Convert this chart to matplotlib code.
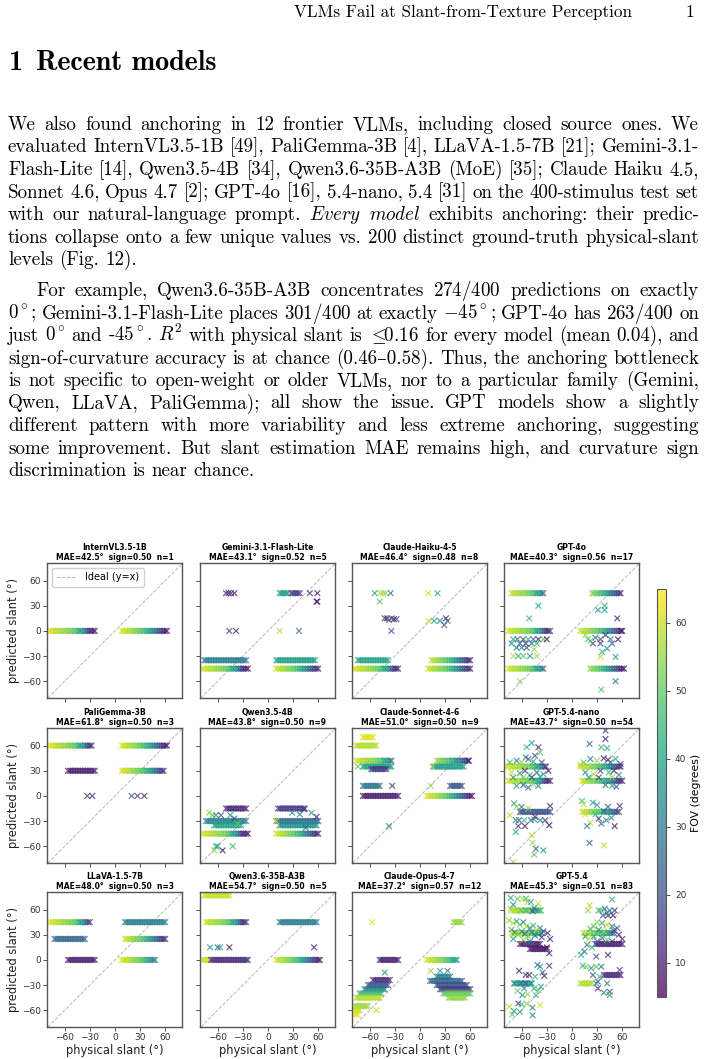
import matplotlib
matplotlib.use("Agg")
import matplotlib.pyplot as plt
import numpy as np

plt.rcParams['mathtext.fontset'] = 'cm'

# ---------------- data ----------------
MODELS = ["InternVL3.5-1B", "Gemini-3.1-Flash-Lite", "Claude-Haiku-4-5", "GPT-4o",
          "PaliGemma-3B", "Qwen3.5-4B", "Claude-Sonnet-4-6", "GPT-5.4-nano",
          "LLaVA-1.5-7B", "Qwen3.6-35B-A3B", "Claude-Opus-4-7", "GPT-5.4"]
MAE = [42.5, 43.1, 46.4, 40.3, 61.8, 43.8, 51.0, 43.7, 48.0, 54.7, 37.2, 45.3]
SIGN = [0.50, 0.52, 0.48, 0.56, 0.50, 0.50, 0.50, 0.50, 0.50, 0.50, 0.57, 0.51]
N_UNIQUE = [1, 5, 8, 17, 3, 9, 9, 54, 3, 5, 12, 83]

# test stimuli: physical slant level and its field of view
STIM_SLANT = [-78, -76, -74, -72, -70, -68, -66, -64, -62, -60, -58, -56, -54, -52,
              -50, -48, -46, -44, -42, -40, -38, -36, -34, -32, -30, -28, -26, -24,
              8, 10, 12, 14, 16, 18, 20, 22, 24, 26, 28, 30, 32, 34,
              36, 38, 40, 42, 44, 46, 48, 50, 52, 54, 56, 58, 60, 62]
STIM_FOV = [62, 60, 63, 58, 61, 56, 60, 55, 58, 53, 57, 52, 55, 50,
            54, 47, 51, 44, 40, 36, 42, 30, 24, 18, 12, 9, 14, 7,
            63, 60, 62, 57, 61, 55, 59, 53, 57, 50, 55, 48, 52, 45,
            49, 40, 44, 35, 38, 28, 32, 20, 25, 14, 18, 9, 12, 6]

# anchored rows: (predicted slant, slant from, slant to, fov or None = stimulus fov)
bands_internvl = [(0, -78, -24, None), (0, 8, 62, None)]
bands_gemini = [(-45, -78, -24, None), (-35, -76, -26, 30), (-45, 10, 60, None),
                (-35, 10, 56, 38), (45, 14, 24, 38), (45, 28, 38, 15)]
bands_haiku = [(-45, -78, -25, None), (-35, -74, -38, 40), (-45, 10, 60, None),
               (-35, 14, 61, None)]
bands_gpt4o = [(45, -73, -33, None), (0, -76, -25, None), (-45, -77, -33, None),
               (45, 23, 58, None), (0, 9, 61, None), (-45, 21, 62, None)]
bands_paligemma = [(60, -78, -28, None), (30, -56, -24, 10), (60, 8, 62, None),
                   (30, 8, 58, None)]
bands_qwen35 = [(-15, -50, -26, 12), (-30, -74, -26, 30), (-35, -64, -32, 40),
                (-45, -78, -24, None), (-15, 11, 44, 15), (-30, 10, 60, 25),
                (-35, 14, 58, 35), (-45, 9, 61, None)]
bands_sonnet = [(70, -68, -56, 62), (60, -76, -52, 58), (42, -77, -34, None),
                (35, -68, -33, 40), (32, -58, -40, 15), (12, -68, -48, 28),
                (0, -68, -25, 10), (42, 20, 59, None), (35, 16, 52, 38),
                (12, 35, 51, 20), (0, 8, 62, None)]
bands_gpt54nano = [(18, -76, -25, None), (35, -78, -31, None), (-19, -62, -26, 20),
                   (18, 12, 61, None), (35, 10, 59, None), (-19, 12, 57, None)]
bands_llava = [(45, -78, -30, None), (25, -72, -35, 25), (0, -57, -24, 10),
               (45, 12, 60, 30), (25, 12, 61, None), (0, 8, 48, None)]
bands_qwen36 = [(77, -77, -46, 60), (45, -74, -25, None), (0, -78, -70, 60),
                (0, -68, -24, 12), (45, 14, 59, 30), (0, 9, 62, None)]
bands_opus = [(0, -48, -25, 10), (-24, -56, -35, 12), (-30, -63, -37, 20),
              (-35, -67, -41, 30), (-40, -73, -45, 45), (-45, -77, -47, 58),
              (-55, -78, -61, 56), (-60, -78, -72, 60), (-65, -78, -74, 62),
              (45, 40, 51, 55), (0, 8, 45, None), (-20, 19, 37, 30), (-25, 11, 51, 25),
              (-30, 19, 57, 20), (-35, 23, 61, 15), (-40, 27, 61, 50), (-45, 34, 55, 55)]
bands_gpt54 = [(59, -73, -37, None), (32, -72, -36, None), (19, -62, -38, 10),
               (13, -50, -30, 8), (-28, -68, -48, 40), (19, 28, 61, 10),
               (32, 14, 50, None), (-18, 37, 59, 12), (-28, 10, 24, 58)]

# off-row predictions: (physical slant, predicted slant, fov)
points_internvl = []
points_gemini = [(-50, 45, 12), (-47, 45, 10), (-44, 45, 12), (-40, 45, 10), (-46, 0, 15),
                 (-38, 0, 10), (50, 45, 12), (59, 45, 10), (58, 35, 8), (59, 35, 10),
                 (14, 0, 58), (37, 0, 25)]
points_haiku = [(-54, 45, 40), (-47, 45, 56), (-44, 45, 58), (-41, 45, 55), (-35, 45, 28),
                (-48, 35, 50), (-42, 15, 12), (-39, 15, 8), (-37, 13, 25), (-34, 15, 20),
                (-31, 14, 10), (-28, 14, 15), (-34, 0, 20), (10, 45, 60), (21, 45, 40),
                (10, 12, 60), (17, 12, 40), (24, 12, 30), (31, 15, 10), (33, 12, 25),
                (29, 7, 20)]
points_gpt4o = [(-70, -10, 40), (-65, -10, 30), (-58, -10, 20), (-52, -10, 45), (-46, -10, 25),
                (-40, -10, 10), (-34, -10, 50), (-30, -10, 8), (-72, -15, 38), (-62, -15, 22),
                (-55, -15, 12), (-48, -15, 30), (-42, -15, 45), (-66, -20, 28), (-60, -20, 35),
                (-54, -20, 20), (-45, -22, 55), (-70, -30, 58), (-64, -30, 42), (-58, -30, 48),
                (-50, -30, 36), (-42, -30, 55), (-40, 30, 40), (-51, 15, 45), (-62, -60, 55),
                (19, -10, 48), (34, -10, 20), (46, -10, 30), (59, 0, 10), (25, -15, 15),
                (34, -15, 18), (42, -21, 35), (36, -25, 42), (52, -31, 40), (34, -31, 60),
                (31, 25, 35), (39, 30, 45), (39, 25, 40), (54, 15, 10), (52, -60, 30),
                (35, -70, 48), (16, -5, 55), (22, -12, 50), (28, -8, 25), (40, -5, 12),
                (48, -15, 20), (55, -10, 8)]
points_paligemma = [(-33, 0, 15), (-27, 0, 12), (20, 0, 20), (27, 0, 15), (35, 0, 10)]
points_qwen35 = [(-70, -20, 55), (-66, -23, 50), (-62, -23, 30), (-56, -23, 20), (-45, -23, 35),
                 (-62, -60, 45), (-64, -65, 55), (-54, -65, 10), (-42, -60, 45), (-60, -60, 40),
                 (-40, -27, 20), (-36, -33, 50), (29, -20, 35), (38, -22, 30), (43, -16, 15),
                 (52, -20, 40), (58, -25, 12), (10, -30, 60), (45, -38, 25)]
points_sonnet = [(-33, 12, 12), (-37, -36, 30), (-74, 35, 50), (13, 12, 55), (58, 42, 10),
                 (15, 35, 55)]
points_gpt54nano = [(-54, 58, 45), (-48, 63, 40), (-40, 58, 12), (-38, 52, 50), (-44, 48, 18),
                    (-55, 46, 30), (-74, 40, 45), (-66, 42, 30), (-60, 40, 55), (-52, 44, 25),
                    (-46, 41, 40), (-36, 40, 20), (-31, 35, 15), (-72, 28, 60), (-62, 27, 35),
                    (-56, 30, 12), (-50, 25, 45), (-42, 28, 20), (-34, 26, 38), (-28, 30, 10),
                    (-70, 22, 35), (-58, 22, 50), (-48, 22, 15), (-38, 23, 40), (-66, 12, 40),
                    (-58, 13, 20), (-46, 14, 55), (-40, 12, 30), (-52, 10, 25),
                    (-69, -9, 40), (-66, -13, 55), (-74, -23, 58), (-67, -29, 35), (-63, -29, 20),
                    (-57, -29, 45), (-49, -29, 25), (-45, -28, 40), (-38, -29, 30), (-32, -29, 15),
                    (-64, -36, 15), (-56, -36, 10), (-27, -35, 8), (-67, -43, 40), (-48, -47, 58),
                    (-47, -56, 55), (-43, -63, 20), (-45, -70, 50), (-34, -65, 35), (-70, -79, 55),
                    (-60, -13, 30), (-52, -15, 55), (-44, -25, 12), (-26, -12, 10),
                    (21, 62, 25), (40, 78, 15), (40, 68, 10), (35, 58, 45), (42, 57, 40),
                    (43, 43, 12), (53, 11, 20), (10, 37, 58), (14, 40, 50), (22, 44, 30),
                    (30, 42, 55), (38, 45, 12), (46, 40, 25), (52, 44, 40), (58, 38, 15),
                    (16, 28, 35), (26, 26, 58), (34, 30, 20), (44, 28, 45), (50, 30, 10),
                    (56, 25, 30), (20, 22, 40), (32, 22, 15), (48, 22, 55), (40, 13, 25),
                    (48, 12, 35), (12, -6, 45), (14, -10, 58), (25, -8, 40), (30, -11, 35),
                    (43, -13, 20), (57, -12, 15), (32, -27, 12), (35, -33, 25), (41, -29, 30),
                    (47, -26, 35), (22, -32, 58), (18, -36, 30), (51, -36, 10), (21, -56, 25),
                    (38, -59, 58), (16, -22, 60), (28, -22, 45), (38, -18, 20)]
points_llava = []
points_qwen36 = [(-69, 15, 35), (-60, 15, 25), (-57, 15, 40), (-46, 15, 10), (55, 15, 10)]
points_opus = [(-57, 45, 62), (-42, -15, 35), (-52, -60, 60), (13, -13, 55), (24, -13, 35),
               (33, -13, 30)]
points_gpt54 = [(-73, 74, 40), (-65, 73, 50), (-59, 73, 58), (-55, 73, 45), (-53, 69, 55),
                (-49, 69, 40), (-40, 67, 60), (-73, 61, 55), (-67, 59, 58), (-61, 59, 50),
                (-55, 59, 45), (-45, 62, 30), (-37, 59, 50), (-47, 58, 20), (-70, 66, 35),
                (-75, 47, 55), (-70, 44, 60), (-66, 46, 40), (-62, 42, 50), (-58, 45, 35),
                (-54, 40, 55), (-50, 38, 30), (-46, 41, 45), (-42, 36, 60), (-38, 38, 35),
                (-34, 34, 20), (-29, 32, 12), (-26, 25, 10), (-72, 36, 45), (-68, 33, 30),
                (-64, 30, 55), (-60, 34, 40), (-56, 31, 20), (-52, 28, 50), (-48, 33, 35),
                (-44, 29, 25), (-40, 31, 45), (-36, 27, 15), (-70, 25, 40), (-58, 24, 55),
                (-50, 22, 30), (-30, 15, 8), (-27, 8, 10),
                (-63, -13, 10), (-55, -18, 12), (-51, -18, 8), (-41, -6, 25), (-38, -8, 35),
                (-27, -7, 15), (-35, -15, 30), (-33, -19, 12), (-44, -20, 45),
                (-69, -28, 30), (-61, -28, 25), (-55, -28, 20), (-49, -28, 35), (-45, -34, 40),
                (-65, -37, 50), (-59, -42, 35), (-53, -41, 55), (-43, -42, 45), (-40, -36, 50),
                (-37, -32, 40), (-57, -34, 30), (-75, -56, 58), (-69, -61, 35), (-64, -52, 15),
                (-60, -53, 45), (-54, -52, 55), (-62, -62, 40), (-47, -57, 30), (-38, -54, 60),
                (-47, -66, 35), (-71, -65, 50),
                (21, 65, 58), (19, 59, 55), (48, 72, 45), (32, 59, 40), (35, 59, 50),
                (39, 61, 25), (45, 59, 30), (51, 59, 15), (37, 53, 20), (43, 53, 12),
                (49, 53, 10), (42, 56, 35), (30, 45, 55), (36, 44, 40), (42, 42, 60),
                (48, 40, 30), (54, 38, 20), (22, 37, 45), (26, 40, 50), (32, 36, 30),
                (38, 34, 55), (44, 32, 45), (50, 35, 15), (56, 30, 10), (60, 25, 12),
                (16, 28, 35), (20, 25, 58), (26, 28, 40), (30, 22, 25), (36, 26, 20),
                (42, 24, 50), (48, 22, 15), (18, 18, 30), (24, 15, 45), (11, 6, 40),
                (15, 10, 30), (29, 4, 20), (43, 6, 12), (13, -7, 40), (17, -8, 55),
                (23, -10, 35), (29, -8, 50), (35, -8, 30), (57, -12, 15), (31, -26, 20),
                (31, -34, 10), (42, -28, 30), (38, -39, 35), (45, -38, 20), (45, -42, 40),
                (29, -28, 35), (33, -20, 45), (25, -18, 20)]

PANEL_BANDS = [bands_internvl, bands_gemini, bands_haiku, bands_gpt4o,
               bands_paligemma, bands_qwen35, bands_sonnet, bands_gpt54nano,
               bands_llava, bands_qwen36, bands_opus, bands_gpt54]
PANEL_POINTS = [points_internvl, points_gemini, points_haiku, points_gpt4o,
                points_paligemma, points_qwen35, points_sonnet, points_gpt54nano,
                points_llava, points_qwen36, points_opus, points_gpt54]

HEADER = "VLMs Fail at Slant-from-Texture Perception"
SECTION = "Recent models"
PARA1 = [
    "We also found anchoring in 12 frontier VLMs, including closed source ones. We",
    "evaluated InternVL3.5-1B [49], PaliGemma-3B [4], LLaVA-1.5-7B [21]; Gemini-3.1-",
    "Flash-Lite [14], Qwen3.5-4B [34], Qwen3.6-35B-A3B (MoE) [35]; Claude Haiku 4.5,",
    "Sonnet 4.6, Opus 4.7 [2]; GPT-4o [16], 5.4-nano, 5.4 [31] on the 400-stimulus test set",
    r"with our natural-language prompt. $\mathit{Every}$ $\mathit{model}$ exhibits anchoring: their predic-",
    "tions collapse onto a few unique values vs. 200 distinct ground-truth physical-slant",
    "levels (Fig. 12).",
]
PARA2 = [
    r"For example, Qwen3.6-35B-A3B concentrates $274/400$ predictions on exactly",
    r"$0^\circ$; Gemini-3.1-Flash-Lite places $301/400$ at exactly $-45^\circ$; GPT-4o has $263/400$ on",
    r"just $0^\circ$ and -$45^\circ$. $R^2$ with physical slant is $\leq\!\!$0.16 for every model (mean 0.04), and",
    "sign-of-curvature accuracy is at chance (0.46\u20130.58). Thus, the anchoring bottleneck",
    "is not specific to open-weight or older VLMs, nor to a particular family (Gemini,",
    "Qwen, LLaVA, PaliGemma); all show the issue. GPT models show a slightly",
    "different pattern with more variability and less extreme anchoring, suggesting",
    "some improvement. But slant estimation MAE remains high, and curvature sign",
    "discrimination is near chance.",
]

# ---------------- page ----------------
W, H = 707, 1059
fig = plt.figure(figsize=(W / 100, H / 100), dpi=100)
renderer = fig.canvas.get_renderer()
SERIF = ['cmr10', 'DejaVu Serif']
BOLD = ['cmb10', 'DejaVu Serif']
LEFT, RIGHT, INDENT = 8, 699, 36


def put(x, y, s, **kw):
    return fig.text(x / W, 1 - y / H, s, **kw)


def width_of(t):
    return t.get_window_extent(renderer).width


def word_widths(line, size):
    out = []
    for w in line.split(' '):
        t = put(0, 0, w, family=SERIF, fontsize=size)
        out.append(width_of(t))
        t.remove()
    return out


def natural(line, size):
    ws = word_widths(line, size)
    return sum(ws) + (len(ws) - 1) * size * 100 / 72 * 0.333


def text_line(line, x0, x1, y, size, justify=True):
    words = line.split(' ')
    texts = [put(0, y, w, family=SERIF, fontsize=size, va='baseline') for w in words]
    widths = [width_of(t) for t in texts]
    space = size * 100 / 72 * 0.333
    if justify and len(words) > 1:
        space = (x1 - x0 - sum(widths)) / (len(words) - 1)
    x = x0
    for t, w in zip(texts, widths):
        t.set_x(x / W)
        x += w + space


# body size: the tightest justified line sets with natural spacing
probe = 13.0
full_lines = [(l, RIGHT - LEFT) for l in PARA1[:-1]] + \
             [(PARA2[0], RIGHT - INDENT)] + [(l, RIGHT - LEFT) for l in PARA2[1:-1]]
BODY = probe * min(target / natural(l, probe) for l, target in full_lines) * 1.02

# running head
put(632, 17, HEADER, family=SERIF, fontsize=BODY * 0.9, ha='right', va='baseline')
put(694, 17, "1", family=SERIF, fontsize=BODY * 0.9, ha='right', va='baseline')

# section heading, sized so that its title spans x = 36..217
t = put(0, 0, SECTION, family=BOLD, fontsize=20)
SEC = 20 * 181 / width_of(t)
t.remove()
put(LEFT, 70, "1", family=BOLD, fontsize=SEC, va='baseline')
put(INDENT, 70, SECTION, family=BOLD, fontsize=SEC, va='baseline')

for i, line in enumerate(PARA1):
    text_line(line, LEFT, RIGHT, 130 + 22.5 * i, BODY, justify=(i < len(PARA1) - 1))
for i, line in enumerate(PARA2):
    x0 = INDENT if i == 0 else LEFT
    text_line(line, x0, RIGHT, 296 + 22.5 * i, BODY, justify=(i < len(PARA2) - 1))

# ---------------- panels ----------------
COL_LEFT = [47, 200, 352, 504]
ROW_TOP = [563, 728, 892]
SIDE = 135
slant = np.array(STIM_SLANT)
fov = np.array(STIM_FOV)

sc = None
for k, name in enumerate(MODELS):
    r, c = divmod(k, 4)
    ax = fig.add_axes([COL_LEFT[c] / W, 1 - (ROW_TOP[r] + SIDE) / H, SIDE / W, SIDE / H])
    xs, ys, cs = [], [], []
    for pred, lo, hi, f in PANEL_BANDS[k]:
        sel = (slant >= lo) & (slant <= hi)
        xs += list(slant[sel])
        ys += [pred] * int(sel.sum())
        cs += list(fov[sel]) if f is None else [f] * int(sel.sum())
    for px, py, pf in PANEL_POINTS[k]:
        xs.append(px)
        ys.append(py)
        cs.append(pf)
    ax.axline((0, 0), slope=1, color='#b8b8b8', ls='--', lw=0.7, zorder=1,
              label='Ideal (y=x)')
    sc = ax.scatter(xs, ys, c=cs, cmap='viridis', vmin=5, vmax=65, marker='x',
                    s=17, linewidths=0.9, alpha=0.75, zorder=2)
    ax.set_xlim(-81, 80)
    ax.set_ylim(-80, 81)
    ax.set_xticks([-60, -30, 0, 30, 60])
    ax.set_yticks([-60, -30, 0, 30, 60])
    ax.tick_params(labelsize=6.5, length=3, width=0.6, pad=1.5, colors='#333333')
    for sp in ax.spines.values():
        sp.set_color('#555555')
        sp.set_linewidth(1.0)
    ax.set_title(f"{name}\nMAE={MAE[k]:.1f}\u00b0  sign={SIGN[k]:.2f}  n={N_UNIQUE[k]}",
                 fontsize=5.5, fontweight='bold', pad=2, linespacing=1.15)
    if c == 0:
        ax.set_ylabel("predicted slant (\u00b0)", fontsize=8.3, labelpad=1, color='#222222')
    else:
        ax.tick_params(labelleft=False)
    if r == 2:
        ax.set_xlabel("physical slant (\u00b0)", fontsize=8.3, labelpad=1, color='#222222')
    else:
        ax.tick_params(labelbottom=False)
    if k == 0:
        ax.legend(loc='upper left', fontsize=7, handlelength=2.0, handletextpad=1.0,
                  borderpad=0.45, framealpha=0.9, edgecolor='#cccccc')

cax = fig.add_axes([657 / W, 1 - 997 / H, 9 / W, 408 / H])
cb = fig.colorbar(sc, cax=cax)
cb.set_label("FOV (degrees)", fontsize=7.8, labelpad=3)
cb.set_ticks([10, 20, 30, 40, 50, 60])
cb.ax.tick_params(labelsize=6.5, length=3, width=0.6, colors='#333333')
cb.outline.set_edgecolor('#555555')
cb.outline.set_linewidth(0.8)

fig.savefig("out.png", dpi=100, facecolor='white')
